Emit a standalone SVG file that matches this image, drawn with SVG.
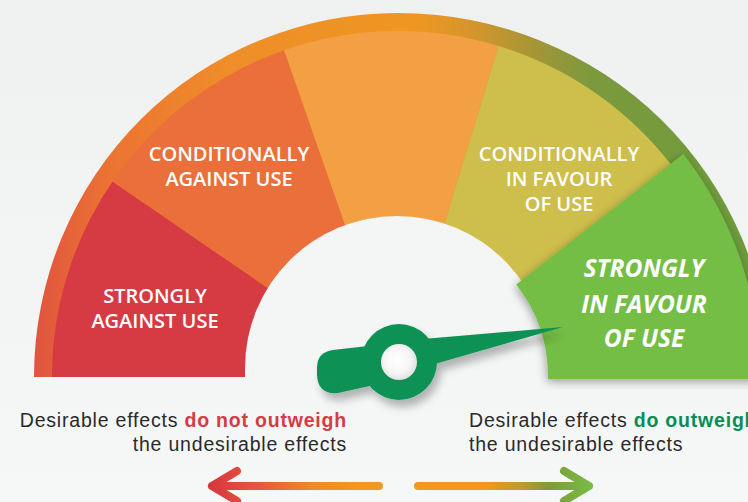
<svg xmlns="http://www.w3.org/2000/svg" width="748" height="502" viewBox="0 0 748 502">
  <defs>
    <linearGradient id="bg" x1="0" y1="0" x2="0" y2="1">
      <stop offset="0" stop-color="#EFF0F0"/>
      <stop offset="1" stop-color="#F6F7F7"/>
    </linearGradient>
    <linearGradient id="band" gradientUnits="userSpaceOnUse" x1="34" y1="0" x2="770" y2="0">
      <stop offset="0" stop-color="#E0543F"/>
      <stop offset="0.103" stop-color="#EC7332"/>
      <stop offset="0.266" stop-color="#EF8E28"/>
      <stop offset="0.524" stop-color="#EF9622"/>
      <stop offset="0.606" stop-color="#D0952D"/>
      <stop offset="0.688" stop-color="#A09638"/>
      <stop offset="0.755" stop-color="#7C9A3D"/>
      <stop offset="1" stop-color="#6A9C3B"/>
    </linearGradient>
    <linearGradient id="arrL" gradientUnits="userSpaceOnUse" x1="208" y1="0" x2="383" y2="0">
      <stop offset="0" stop-color="#D8353F"/>
      <stop offset="0.3" stop-color="#E55A3C"/>
      <stop offset="0.6" stop-color="#EE8A2A"/>
      <stop offset="0.85" stop-color="#F0981F"/>
      <stop offset="1" stop-color="#F0981F"/>
    </linearGradient>
    <linearGradient id="arrR" gradientUnits="userSpaceOnUse" x1="414" y1="0" x2="594" y2="0">
      <stop offset="0" stop-color="#F0981F"/>
      <stop offset="0.4" stop-color="#F0981F"/>
      <stop offset="0.6" stop-color="#BE9A32"/>
      <stop offset="0.75" stop-color="#7F9A3C"/>
      <stop offset="1" stop-color="#76BE45"/>
    </linearGradient>
    <radialGradient id="hubhole" cx="0.45" cy="0.45" r="0.6">
      <stop offset="0" stop-color="#FFFFFF"/>
      <stop offset="0.6" stop-color="#F6F6F6"/>
      <stop offset="1" stop-color="#DCDCDC"/>
    </radialGradient>
    <filter id="segShadow" x="-20%" y="-20%" width="140%" height="140%">
      <feDropShadow dx="-1" dy="3" stdDeviation="5" flood-color="#000" flood-opacity="0.35"/>
    </filter>
    <filter id="needleShadow" x="-20%" y="-30%" width="140%" height="170%">
      <feDropShadow dx="4" dy="7" stdDeviation="4" flood-color="#000" flood-opacity="0.28"/>
    </filter>
  </defs>
  <style>
    .seg-label { font-family: "Open Sans", "Liberation Sans", sans-serif; font-size: 20px; font-weight: 600; fill: #FFFFFF; text-anchor: middle; }
    .seg-strong { font-family: "Open Sans", "Liberation Sans", sans-serif; font-size: 24.5px; font-weight: 700; font-style: italic; fill: #FFFFFF; text-anchor: middle; }
    .caption { font-family: "Liberation Sans", Arial, sans-serif; font-size: 19.5px; fill: #2A2A2A; letter-spacing: 0.8px; }
    .neg { fill: #D63B46; font-weight: 700; }
    .pos { fill: #0A8C55; font-weight: 700; }
    .arrow { fill: none; stroke-width: 8; stroke-linecap: round; stroke-linejoin: round; }
  </style>

  <rect x="0" y="0" width="748" height="502" fill="url(#bg)"/>

  <g id="gauge">
    <path id="outer-band" d="M 34 377 A 364 364 0 0 1 398 13 A 372 364 0 0 1 770 377 Z" fill="url(#band)"/>

    <g id="seg-strongly-against">
      <path d="M 398 377 L 52 377 A 346 346 0 0 1 112.5 181.5 Z" fill="#D63A43"/>
      <text class="seg-label" x="155" y="303">STRONGLY</text>
      <text class="seg-label" x="155" y="328">AGAINST USE</text>
    </g>
    <g id="seg-conditionally-against">
      <path d="M 398 377 L 112.5 181.5 A 346 346 0 0 1 284.2 50.2 Z" fill="#EB6F3A"/>
      <text class="seg-label" x="229" y="161">CONDITIONALLY</text>
      <text class="seg-label" x="229" y="186">AGAINST USE</text>
    </g>
    <g id="seg-neutral">
      <path d="M 398 377 L 284.2 50.2 A 346 346 0 0 1 498.6 46.0 Z" fill="#F3A044"/>
    </g>
    <g id="seg-conditionally-favour">
      <path d="M 398 377 L 498.6 46.0 A 346 346 0 0 1 677.9 173.6 Z" fill="#CEBE4B"/>
      <text class="seg-label" x="559" y="161">CONDITIONALLY</text>
      <text class="seg-label" x="559" y="186">IN FAVOUR</text>
      <text class="seg-label" x="559" y="211">OF USE</text>
    </g>

    <path id="hole" d="M 245 377 L 245 368 A 152 152 0 0 1 549 368 L 549 377 Z" fill="#F4F5F5"/>

    <g id="seg-strongly-favour">
      <path d="M 516.2 284.6 L 683.3 154.1 A 362 362 0 0 1 760 377 L 760 379 L 548 379 L 548 377 A 150 150 0 0 0 516.2 284.6 Z" fill="#74BE45" filter="url(#segShadow)"/>
      <text class="seg-strong" x="644" y="277">STRONGLY</text>
      <text class="seg-strong" x="644" y="313">IN FAVOUR</text>
      <text class="seg-strong" x="644" y="347">OF USE</text>
    </g>
  </g>

  <g id="needle">
    <g filter="url(#needleShadow)" fill="#0A9155">
      <path d="M 368 346 L 333 350 Q 317 352 317 368 L 317 375 Q 318 395 338 393 L 374 385 Z"/>
      <path d="M 400 341 L 563 327 L 400 374 Z"/>
      <circle cx="399" cy="362" r="38"/>
    </g>
    <circle cx="399" cy="362" r="18" fill="url(#hubhole)"/>
  </g>

  <g id="caption-left">
    <text class="caption" x="347" y="427" text-anchor="end">Desirable effects <tspan class="neg">do not outweigh</tspan></text>
    <text class="caption" x="347" y="451" text-anchor="end">the undesirable effects</text>
  </g>
  <g id="caption-right">
    <text class="caption" x="469" y="427">Desirable effects <tspan class="pos">do outweigh</tspan></text>
    <text class="caption" x="469" y="451">the undesirable effects</text>
  </g>

  <g id="connectors">
    <path class="arrow" stroke="url(#arrL)" d="M 379 486 L 212 486 M 237 471 L 212 486 L 237 501"/>
    <path class="arrow" stroke="url(#arrR)" d="M 418 486 L 589 486 M 564 471 L 589 486 L 564 501"/>
  </g>
</svg>
